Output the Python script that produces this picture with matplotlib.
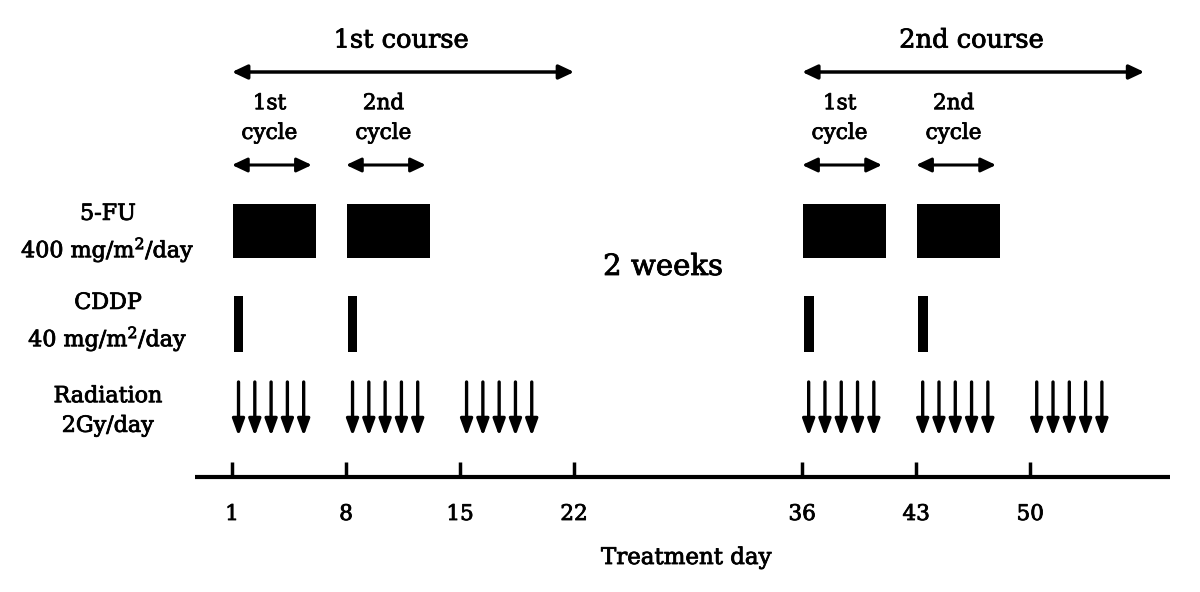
import matplotlib.pyplot as plt
import matplotlib.patheffects as pe

# Schedule data (treatment days)
tick_days = [1, 8, 15, 22, 36, 43, 50]
fu_start = [1, 8, 36, 43]
fu_len = 5
cddp_days = [1, 8, 36, 43]
radiation_weeks = [1, 8, 15, 36, 43, 50]
radiation_per_week = 5
courses = ["1st course", "2nd course"]
course_span = [(1, 22), (36, 57)]
cycle_labels = ["1st\ncycle", "2nd\ncycle", "1st\ncycle", "2nd\ncycle"]
cycle_span = [(1, 6), (8, 13), (36, 41), (43, 48)]
row_labels = ["5-FU\n400 mg/m$^2$/day", "CDDP\n40 mg/m$^2$/day", "Radiation\n2Gy/day"]

plt.rcParams['font.family'] = ['DejaVu Serif']
plt.rcParams['mathtext.fontset'] = 'dejavuserif'

# slightly heavier strokes for the text
heavy = [pe.withStroke(linewidth=0.6, foreground='black')]

# Pixel based layout: day 1 at x=232, 16.29 px per day
PX_DAY = 16.29
def px2day(p):
    return 1 + (p - 232) / PX_DAY

fig = plt.figure(figsize=(12, 5.92), dpi=100)
ax = fig.add_axes([0, 0, 1, 1])
ax.set_xlim(px2day(0), px2day(1200))
ax.set_ylim(592, 0)
ax.axis('off')

def darrow(x0, x1, y, lw=2.5):
    ax.annotate('', xy=(x1, y), xytext=(x0, y),
                arrowprops=dict(arrowstyle='<|-|>,head_length=0.7,head_width=0.33',
                                lw=lw, color='black', mutation_scale=13,
                                shrinkA=0, shrinkB=0))

# course arrows and labels
for name, (a, b) in zip(courses, course_span):
    darrow(a, b, 72)
    ax.text((a + b) / 2 - 0.1, 40, name, ha='center', va='center',
            fontsize=18.5, path_effects=heavy)

# cycle arrows and labels
for lab, (a, b) in zip(cycle_labels, cycle_span):
    darrow(a, b - 0.1, 165, lw=2.2)
    ax.text((a + b) / 2 - 0.2, 118, lab, ha='center', va='center',
            fontsize=15.5, linespacing=1.45, path_effects=heavy)

# 5-FU blocks
for s in fu_start:
    ax.bar(s + 0.05, 54, width=fu_len + 0.12, bottom=204, align='edge',
           color='black', edgecolor='none')

# CDDP bars
for d in cddp_days:
    ax.bar(d + 0.1, 56, width=0.6, bottom=296, align='edge',
           color='black', edgecolor='none')

# Radiation arrows
for w in radiation_weeks:
    for k in range(radiation_per_week):
        x = w + k * 1.0 + 0.4
        ax.annotate('', xy=(x, 436), xytext=(x, 382),
                    arrowprops=dict(arrowstyle='-|>,head_length=0.9,head_width=0.33',
                                    lw=2.4, color='black', mutation_scale=11,
                                    shrinkA=0, shrinkB=0))

# Row labels
for lab, y in zip(row_labels, [234, 323, 411]):
    ax.text(px2day(108), y, lab, ha='center', va='center', fontsize=16,
            linespacing=1.45, path_effects=heavy)

ax.text(px2day(663), 267, "2 weeks", ha='center', va='center', fontsize=21,
        path_effects=heavy)

# time axis
ax.plot([px2day(195), px2day(1170)], [477, 477], color='black', lw=3,
        solid_capstyle='butt')
for d in tick_days:
    ax.plot([d, d], [462, 477], color='black', lw=2.5, solid_capstyle='butt')
    ax.text(d, 514, str(d), ha='center', va='center', fontsize=15.5,
            path_effects=heavy)
ax.text(px2day(686), 558, "Treatment day", ha='center', va='center',
        fontsize=16.5, path_effects=heavy)

fig.savefig('out.png', dpi=100, facecolor='white')
